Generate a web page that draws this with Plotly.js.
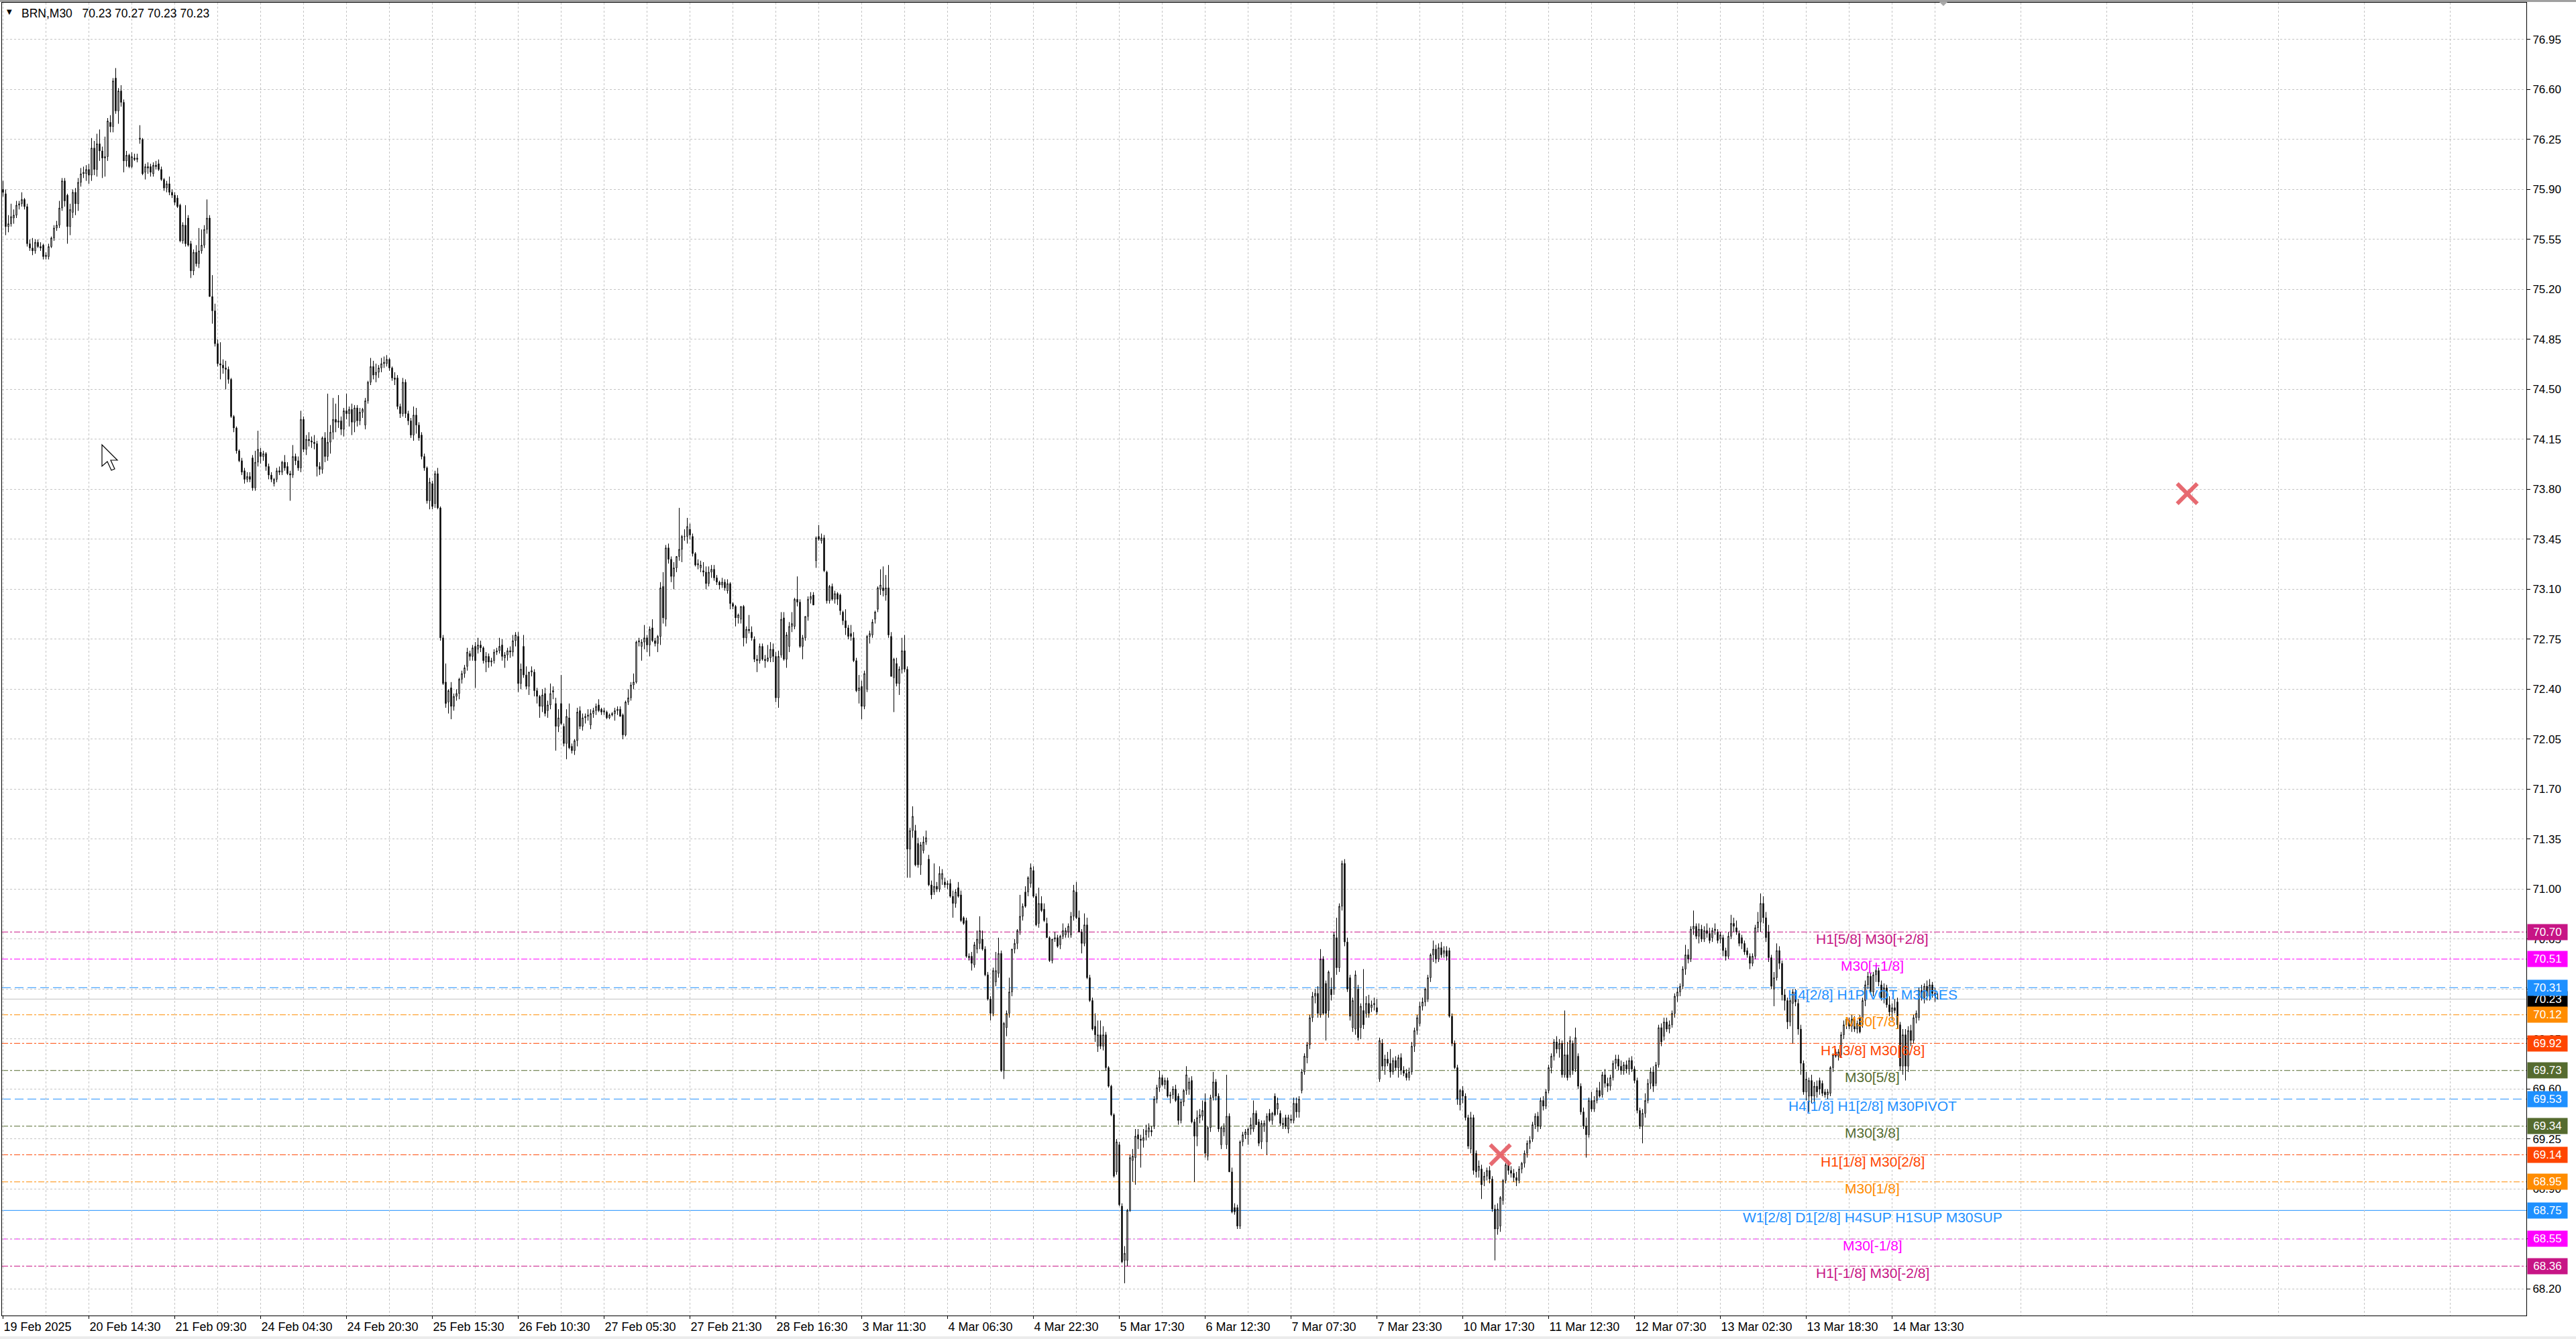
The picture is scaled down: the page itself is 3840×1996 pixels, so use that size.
<!DOCTYPE html>
<html>
<head>
<meta charset="utf-8">
<script src="https://cdn.plot.ly/plotly-3.0.1.min.js"></script>
<style>
html,body{margin:0;padding:0;background:#ffffff;}
#chart{width:3840px;height:1996px;}
</style>
</head>
<body>
<div id="chart"></div>
<script>
// ---------- DATA (BRN, M30) ----------
const openP = [
75.90,75.87,75.64,75.66,75.70,75.72,75.79,75.80,75.83,75.78,
75.52,75.49,75.47,75.53,75.50,75.51,75.43,75.43,75.50,75.56,
75.63,75.65,75.77,75.96,75.86,75.64,75.74,75.88,75.80,75.95,
76.01,76.01,76.04,76.00,76.19,76.04,76.22,76.17,76.12,76.13,
76.37,76.34,76.68,76.45,76.59,76.51,76.10,76.14,76.06,76.12,
76.11,76.25,76.25,76.02,76.06,76.06,76.01,76.07,76.08,76.04,
75.97,75.91,75.94,75.88,75.86,75.84,75.79,75.54,75.65,75.70,
75.52,75.33,75.46,75.38,75.47,75.51,75.62,75.70,75.15,75.05,
74.82,74.68,74.67,74.65,74.64,74.57,74.31,74.23,74.07,74.00,
73.93,73.87,73.89,74.02,73.81,73.99,74.06,74.03,74.05,73.96,
73.90,73.84,73.87,73.93,73.92,73.99,73.96,73.91,73.90,74.03,
74.00,73.95,74.29,74.08,74.15,74.14,74.13,74.12,73.96,73.94,
74.16,74.03,74.13,74.20,74.29,74.27,74.28,74.22,74.35,74.33,
74.36,74.27,74.37,74.28,74.34,74.25,74.42,74.55,74.66,74.60,
74.62,74.65,74.68,74.68,74.71,74.65,74.58,74.58,74.38,74.33,
74.55,74.33,74.28,74.18,74.32,74.25,74.18,74.03,73.95,73.72,
73.84,73.70,73.91,73.67,72.76,72.45,72.31,72.41,72.28,72.35,
72.37,72.47,72.51,72.56,72.65,72.63,72.70,72.68,72.71,72.69,
72.59,72.63,72.59,72.60,72.66,72.67,72.71,72.62,72.64,72.67,
72.66,72.74,72.77,72.44,72.70,72.50,72.42,72.52,72.52,72.39,
72.35,72.28,72.37,72.25,72.29,72.38,72.30,72.14,72.30,72.14,
72.02,72.20,72.00,71.97,72.04,72.25,72.14,72.20,72.21,72.15,
72.23,72.25,72.29,72.26,72.24,72.24,72.20,72.22,72.23,72.25,
72.26,72.22,72.08,72.31,72.34,72.43,72.45,72.73,72.70,72.73,
72.76,72.71,72.83,72.74,72.72,72.77,73.12,72.89,73.39,73.31,
73.19,73.25,73.33,73.38,73.47,73.47,73.52,73.47,73.35,73.27,
73.25,73.23,73.22,73.14,73.22,73.24,73.18,73.15,73.13,73.15,
73.09,73.14,73.00,72.98,72.90,72.89,72.98,72.76,72.82,72.80,
72.75,72.61,72.60,72.70,72.61,72.60,72.62,72.68,72.63,72.34,
72.64,72.90,72.61,72.70,72.84,72.84,73.03,73.01,72.70,72.76,
72.91,73.03,73.06,73.30,73.47,73.44,73.46,73.22,73.02,73.12,
73.03,73.07,73.06,72.94,72.88,72.83,72.79,72.76,72.60,72.39,
72.42,72.28,72.40,72.77,72.78,72.89,72.96,73.10,73.11,73.06,
73.11,72.77,72.48,72.58,72.44,72.54,72.67,72.54,71.28,71.41,
71.41,71.32,71.17,71.27,71.33,71.21,71.03,70.98,71.02,71.00,
71.07,71.05,71.03,71.04,70.95,70.90,71.01,70.96,70.80,70.78,
70.53,70.53,70.47,70.58,70.62,70.65,70.58,70.40,70.23,70.13,
70.35,70.41,70.55,69.73,70.03,70.13,70.28,70.58,70.62,70.71,
70.81,70.98,70.98,71.04,71.13,70.95,70.76,70.90,70.86,70.76,
70.66,70.50,70.65,70.66,70.61,70.67,70.68,70.70,70.68,70.81,
70.98,70.80,70.70,70.62,70.75,70.38,70.22,70.04,69.90,69.98,
69.90,69.98,69.75,69.62,69.42,69.02,69.21,68.78,68.40,68.40,
68.75,69.10,69.12,69.28,69.25,69.24,69.28,69.30,69.31,69.34,
69.53,69.61,69.68,69.63,69.66,69.55,69.56,69.60,69.55,69.38,
69.51,69.59,69.60,69.66,69.37,69.27,69.40,69.41,69.51,69.13,
69.33,69.54,69.65,69.55,69.21,69.30,69.21,69.41,69.02,68.77,
68.77,68.64,69.23,69.28,69.28,69.32,69.32,69.43,69.37,69.23,
69.34,69.23,69.43,69.38,69.55,69.46,69.43,69.36,69.40,69.32,
69.39,69.38,69.50,69.44,69.59,69.72,69.82,69.91,70.10,70.25,
70.27,70.12,70.51,70.34,70.15,70.30,70.30,70.66,70.45,70.88,
71.18,70.63,70.38,70.03,70.02,70.30,70.03,70.15,70.13,70.20,
70.17,70.19,70.17,69.67,69.92,69.76,69.81,69.78,69.72,69.80,
69.75,69.82,69.73,69.71,69.68,69.72,69.90,70.01,70.06,70.18,
70.21,70.23,70.38,70.54,70.58,70.51,70.59,70.55,70.57,70.57,
70.11,69.92,69.75,69.49,69.59,69.55,69.40,69.18,69.40,69.15,
69.03,69.04,68.96,68.99,69.03,68.97,68.76,68.62,68.64,68.82,
68.96,69.07,69.03,69.01,68.98,68.96,69.04,69.08,69.15,69.22,
69.25,69.35,69.41,69.34,69.52,69.48,69.59,69.75,69.83,69.93,
69.88,69.92,69.70,69.84,69.70,69.92,69.74,69.83,69.62,69.44,
69.34,69.28,69.52,69.46,69.52,69.59,69.56,69.70,69.64,69.62,
69.68,69.78,69.81,69.76,69.73,69.77,69.74,69.80,69.74,69.66,
69.45,69.34,69.43,69.52,69.64,69.72,69.64,69.77,70.03,69.97,
70.07,70.02,70.05,70.13,70.25,70.28,70.32,70.44,70.54,70.51,
70.72,70.74,70.67,70.72,70.65,70.71,70.69,70.66,70.71,70.70,
70.65,70.66,70.57,70.53,70.67,70.76,70.73,70.69,70.66,70.62,
70.57,70.53,70.48,70.53,70.73,70.77,70.90,70.80,70.70,70.52,
70.30,70.38,70.57,70.48,70.26,70.22,70.07,70.20,70.28,70.20,
70.02,69.78,69.58,69.55,69.66,69.55,69.62,69.66,69.64,69.58,
69.56,69.57,69.75,69.86,69.83,69.84,69.98,70.05,70.08,70.04,
70.09,70.02,70.10,70.05,70.22,70.33,70.39,70.28,70.40,70.43,
70.33,70.24,70.31,70.19,70.14,70.17,70.21,70.05,69.76,69.98,
69.76,70.01,69.94,70.10,70.10,70.29,70.24,70.32,70.25,70.33,
70.27,70.23];

const highP = [
75.96,75.90,75.72,75.80,75.76,75.82,75.82,75.88,75.84,75.80,
75.55,75.56,75.55,75.55,75.53,75.52,75.46,75.52,75.57,75.65,
75.68,75.82,75.98,75.98,75.87,75.80,75.90,75.91,75.98,76.05,
76.06,76.07,76.08,76.26,76.24,76.29,76.32,76.20,76.27,76.40,
76.42,76.68,76.75,76.61,76.63,76.53,76.17,76.15,76.16,76.15,
76.15,76.35,76.26,76.08,76.09,76.08,76.09,76.10,76.11,76.06,
75.98,75.96,75.99,75.90,75.88,75.86,75.80,75.67,75.79,75.72,
75.54,75.48,75.51,75.63,75.62,75.65,75.83,75.72,75.30,75.10,
74.85,74.83,74.71,74.70,74.66,74.58,74.32,74.24,74.08,74.02,
73.95,73.92,73.92,74.04,74.07,74.21,74.09,74.07,74.06,73.98,
73.92,73.88,73.95,73.96,74.00,74.04,73.99,73.93,74.11,74.05,
74.03,74.35,74.31,74.18,74.20,74.17,74.18,74.14,73.99,74.17,
74.20,74.47,74.25,74.44,74.40,74.46,74.31,74.37,74.47,74.38,
74.40,74.39,74.39,74.37,74.37,74.44,74.56,74.72,74.70,74.68,
74.67,74.72,74.73,74.74,74.72,74.66,74.62,74.60,74.40,74.58,
74.57,74.35,74.30,74.38,74.37,74.27,74.20,74.05,73.96,73.88,
73.86,73.93,73.95,73.68,72.78,72.58,72.40,72.45,72.37,72.40,
72.48,72.53,72.57,72.69,72.67,72.71,72.73,72.76,72.74,72.70,
72.66,72.65,72.62,72.68,72.69,72.76,72.75,72.66,72.69,72.70,
72.78,72.80,72.80,72.58,72.78,72.56,72.52,72.56,72.54,72.41,
72.36,72.40,72.41,72.32,72.44,72.42,72.34,72.26,72.50,72.16,
72.26,72.30,72.02,72.05,72.27,72.28,72.23,72.23,72.26,72.26,
72.27,72.30,72.33,72.27,72.27,72.25,72.23,72.24,72.27,72.28,
72.28,72.23,72.32,72.40,72.45,72.51,72.74,72.76,72.75,72.85,
72.78,72.84,72.89,72.76,72.78,73.15,73.22,73.41,73.42,73.33,
73.29,73.33,73.67,73.48,73.52,73.60,73.56,73.49,73.36,73.31,
73.30,73.29,73.26,73.26,73.27,73.27,73.20,73.16,73.18,73.17,
73.17,73.15,73.01,72.99,72.93,72.98,72.99,72.84,72.92,72.84,
72.77,72.64,72.72,72.72,72.64,72.71,72.73,72.72,72.66,72.67,
72.94,72.94,72.80,72.87,72.94,73.04,73.19,73.03,72.78,72.91,
73.05,73.08,73.08,73.47,73.55,73.49,73.48,73.23,73.13,73.14,
73.09,73.08,73.07,72.95,72.96,72.85,72.85,72.80,72.62,72.50,
72.46,72.53,72.78,72.81,72.89,72.95,73.12,73.24,73.26,73.20,
73.27,72.80,72.62,72.62,72.56,72.76,72.78,72.56,71.43,71.58,
71.45,71.36,71.33,71.37,71.41,71.24,71.06,71.18,71.05,71.16,
71.14,71.08,71.06,71.07,70.99,71.00,71.05,70.99,70.81,70.80,
70.55,70.56,70.63,70.71,70.81,70.71,70.60,70.42,70.25,70.45,
70.56,70.66,70.57,70.07,70.15,70.38,70.58,70.65,70.72,70.96,
70.90,71.02,71.09,71.18,71.16,70.97,71.01,70.95,70.90,70.80,
70.67,70.65,70.70,70.68,70.68,70.76,70.73,70.76,70.84,71.03,
71.05,70.85,70.72,70.83,70.80,70.40,70.24,70.13,70.08,70.08,
70.04,70.00,69.76,69.63,69.43,69.25,69.23,68.80,68.50,68.76,
69.14,69.18,69.32,69.32,69.28,69.32,69.35,69.36,69.34,69.55,
69.63,69.73,69.70,69.68,69.68,69.58,69.62,69.63,69.57,69.53,
69.60,69.76,69.68,69.69,69.39,69.45,69.46,69.52,69.57,69.34,
69.56,69.72,69.67,69.57,69.34,69.36,69.70,69.43,69.05,68.80,
68.79,69.24,69.30,69.32,69.33,69.40,69.52,69.45,69.39,69.38,
69.38,69.43,69.46,69.44,69.57,69.54,69.45,69.40,69.42,69.42,
69.42,69.54,69.54,69.55,69.74,69.85,69.93,70.12,70.28,70.30,
70.32,70.58,70.53,70.36,70.43,70.38,70.70,70.80,70.90,71.20,
71.21,70.66,70.40,70.24,70.43,70.33,70.20,70.44,70.25,70.26,
70.22,70.24,70.23,69.96,69.95,69.84,69.86,69.88,69.82,69.83,
69.84,69.85,69.76,69.74,69.75,69.93,70.03,70.12,70.21,70.24,
70.31,70.40,70.55,70.64,70.61,70.62,70.63,70.60,70.60,70.59,
70.13,69.94,69.77,69.60,69.62,69.57,69.42,69.44,69.42,69.17,
69.10,69.07,69.02,69.05,69.06,68.99,68.79,68.80,68.85,68.97,
69.08,69.10,69.06,69.04,69.02,69.06,69.09,69.17,69.24,69.27,
69.37,69.43,69.44,69.54,69.55,69.60,69.77,69.85,69.95,69.97,
69.95,69.94,70.15,69.93,69.97,69.94,70.03,69.85,69.64,69.47,
69.40,69.54,69.58,69.55,69.61,69.65,69.72,69.74,69.68,69.70,
69.80,69.84,69.84,69.80,69.79,69.80,69.82,69.83,69.76,69.68,
69.47,69.46,69.57,69.67,69.75,69.76,69.79,70.05,70.06,70.10,
70.10,70.08,70.15,70.27,70.31,70.34,70.46,70.61,70.58,70.74,
70.85,70.76,70.76,70.75,70.74,70.76,70.73,70.73,70.76,70.72,
70.70,70.68,70.59,70.70,70.82,70.80,70.78,70.71,70.68,70.64,
70.59,70.55,70.55,70.75,70.84,70.97,70.95,70.84,70.75,70.54,
70.42,70.62,70.60,70.50,70.30,70.24,70.24,70.30,70.30,70.23,
70.05,69.80,69.72,69.68,69.70,69.65,69.66,69.68,69.66,69.60,
69.60,69.76,69.85,69.88,69.88,70.00,70.08,70.10,70.10,70.12,
70.11,70.08,70.12,70.24,70.36,70.42,70.41,70.42,70.47,70.45,
70.36,70.34,70.33,70.25,70.20,70.23,70.24,70.07,70.02,70.02,
70.04,70.05,70.12,70.15,70.31,70.33,70.34,70.36,70.37,70.35,
70.31,70.27];

const lowP = [
75.85,75.58,75.60,75.64,75.66,75.70,75.76,75.78,75.76,75.50,
75.47,75.44,75.45,75.49,75.47,75.41,75.41,75.41,75.49,75.54,
75.61,75.63,75.75,75.78,75.52,75.58,75.70,75.72,75.75,75.92,
75.98,75.96,75.94,75.96,76.00,75.99,76.10,75.98,75.99,76.10,
76.30,76.30,76.43,76.36,76.48,76.02,76.06,76.05,76.05,76.10,
76.09,76.22,76.00,75.97,76.01,75.99,75.99,76.04,76.03,75.96,
75.89,75.88,75.86,75.84,75.79,75.77,75.53,75.52,75.50,75.50,
75.28,75.30,75.36,75.35,75.45,75.49,75.59,75.15,74.96,74.80,
74.66,74.57,74.61,74.50,74.54,74.30,74.20,74.05,73.99,73.90,
73.84,73.85,73.85,73.79,73.79,73.96,73.98,74.00,73.93,73.87,
73.85,73.82,73.85,73.90,73.90,73.93,73.90,73.72,73.88,73.97,
73.93,73.92,74.06,74.04,74.10,74.09,74.08,73.89,73.90,73.91,
73.99,74.00,74.05,74.15,74.20,74.23,74.18,74.17,74.29,74.24,
74.18,74.20,74.24,74.25,74.30,74.22,74.40,74.53,74.57,74.55,
74.58,74.62,74.65,74.66,74.63,74.56,74.53,74.36,74.30,74.31,
74.30,74.25,74.16,74.14,74.19,74.14,74.01,73.93,73.70,73.66,
73.66,73.67,73.66,72.74,72.43,72.27,72.23,72.19,72.25,72.32,
72.33,72.44,72.48,72.53,72.60,72.60,72.41,72.65,72.66,72.58,
72.52,72.55,72.56,72.58,72.64,72.65,72.60,72.55,72.60,72.62,
72.63,72.70,72.38,72.40,72.48,72.40,72.36,72.49,72.35,72.30,
72.20,72.24,72.21,72.20,72.26,72.33,71.97,72.10,72.15,72.00,
71.91,71.98,71.95,71.94,72.00,72.12,72.11,72.16,72.18,72.12,
72.20,72.22,72.24,72.22,72.22,72.19,72.19,72.21,72.18,72.22,
72.21,72.05,72.07,72.29,72.32,72.40,72.44,72.70,72.60,72.68,
72.66,72.63,72.73,72.70,72.66,72.71,72.86,72.84,73.28,73.15,
73.10,73.22,73.30,73.29,73.44,73.42,73.45,73.33,73.26,73.24,
73.22,73.19,73.10,73.12,73.18,73.16,73.13,73.10,73.11,73.09,
73.07,72.96,72.96,72.84,72.86,72.86,72.70,72.72,72.79,72.74,
72.59,72.52,72.58,72.60,72.55,72.59,72.59,72.59,72.31,72.27,
72.62,72.60,72.55,72.66,72.80,72.82,72.98,72.69,72.61,72.74,
72.88,73.00,72.99,73.25,73.44,73.42,73.22,73.00,73.00,73.02,
73.00,72.99,72.92,72.85,72.78,72.75,72.74,72.59,72.38,72.30,
72.19,72.26,72.38,72.72,72.76,72.86,72.94,73.06,73.05,73.02,
72.76,72.49,72.24,72.42,72.36,72.51,72.52,71.08,71.08,71.36,
71.16,71.15,71.10,71.25,71.31,71.02,70.93,70.96,70.98,70.98,
71.03,71.01,71.00,70.94,70.80,70.87,70.94,70.77,70.75,70.52,
70.50,70.43,70.45,70.55,70.58,70.57,70.39,70.22,70.08,70.11,
70.32,70.38,69.72,69.67,69.97,70.10,70.25,70.55,70.58,70.68,
70.78,70.87,70.95,71.01,70.94,70.74,70.73,70.84,70.77,70.66,
70.49,70.48,70.63,70.59,70.58,70.65,70.66,70.66,70.66,70.78,
70.79,70.70,70.55,70.60,70.37,70.21,70.01,69.93,69.86,69.88,
69.87,69.73,69.61,69.41,68.98,69.00,68.78,68.38,68.24,68.36,
68.74,68.95,68.93,69.18,69.05,69.19,69.24,69.26,69.27,69.32,
69.50,69.58,69.62,69.60,69.54,69.50,69.53,69.51,69.35,69.36,
69.48,69.56,69.56,69.36,68.95,69.20,69.36,69.38,69.12,69.10,
69.30,69.52,69.52,69.30,69.18,69.27,69.18,69.02,68.73,68.72,
68.62,68.62,69.20,69.25,69.21,69.28,69.30,69.35,69.20,69.18,
69.30,69.14,69.37,69.35,69.41,69.42,69.34,69.32,69.32,69.29,
69.36,69.36,69.40,69.40,69.57,69.70,69.78,69.88,70.07,70.20,
70.10,70.10,70.12,69.94,70.10,70.22,70.26,70.40,70.42,70.85,
70.60,70.28,70.08,70.00,69.98,69.94,69.95,70.02,70.10,70.10,
70.14,70.15,70.12,69.65,69.73,69.70,69.76,69.68,69.70,69.73,
69.68,69.70,69.69,69.66,69.66,69.70,69.86,69.98,70.04,70.15,
70.18,70.21,70.35,70.49,70.48,70.49,70.52,70.52,70.50,70.10,
69.90,69.74,69.49,69.45,69.50,69.38,69.18,69.15,69.00,68.98,
68.98,68.83,68.92,68.96,68.94,68.74,68.40,68.58,68.60,68.79,
68.94,69.00,68.98,68.95,68.92,68.94,69.01,69.05,69.12,69.18,
69.23,69.32,69.30,69.32,69.45,69.46,69.57,69.71,69.80,69.85,
69.82,69.68,69.68,69.66,69.68,69.70,69.72,69.60,69.42,69.32,
69.12,69.26,69.44,69.44,69.50,69.54,69.54,69.61,69.58,69.59,
69.66,69.74,69.73,69.70,69.70,69.71,69.70,69.72,69.64,69.43,
69.32,69.22,69.40,69.50,69.60,69.58,69.62,69.75,69.90,69.94,
70.00,69.99,70.03,70.10,70.21,70.25,70.30,70.40,70.48,70.49,
70.68,70.65,70.62,70.63,70.63,70.66,70.62,70.63,70.68,70.62,
70.62,70.53,70.50,70.51,70.65,70.70,70.68,70.60,70.58,70.54,
70.52,70.44,70.46,70.51,70.70,70.70,70.76,70.63,70.49,70.30,
70.18,70.36,70.44,70.22,70.15,70.02,70.04,69.92,70.18,69.98,
69.70,69.56,69.52,69.44,69.50,69.50,69.54,69.56,69.55,69.54,
69.53,69.55,69.72,69.82,69.80,69.82,69.95,70.02,70.02,70.00,
70.00,69.99,69.99,70.03,70.18,70.30,70.26,70.25,70.35,70.32,
70.22,70.20,70.17,70.11,70.08,70.13,70.02,69.73,69.70,69.66,
69.72,69.90,69.92,70.06,70.08,70.22,70.20,70.22,70.22,70.24,
70.21,70.23];

const closeP = [
75.88,75.64,75.66,75.71,75.72,75.79,75.80,75.83,75.78,75.52,
75.49,75.47,75.53,75.50,75.49,75.43,75.44,75.50,75.56,75.63,
75.65,75.77,75.96,75.82,75.64,75.76,75.88,75.80,75.95,76.01,
76.02,76.04,76.00,76.19,76.04,76.22,76.17,76.12,76.13,76.38,
76.34,76.66,76.45,76.59,76.51,76.10,76.14,76.06,76.13,76.11,
76.12,76.26,76.01,76.06,76.05,76.02,76.07,76.06,76.04,75.97,
75.91,75.94,75.88,75.86,75.81,75.78,75.54,75.65,75.52,75.51,
75.33,75.46,75.38,75.47,75.51,75.62,75.70,75.15,75.05,74.82,
74.68,74.67,74.65,74.64,74.57,74.31,74.23,74.07,74.00,73.92,
73.87,73.89,73.87,73.81,73.99,74.08,74.03,74.05,73.96,73.90,
73.87,73.87,73.93,73.92,73.99,73.95,73.91,73.90,74.03,74.00,
73.95,74.29,74.08,74.15,74.14,74.13,74.12,73.96,73.94,74.16,
74.03,74.13,74.20,74.29,74.27,74.28,74.22,74.35,74.33,74.36,
74.27,74.37,74.28,74.34,74.36,74.42,74.55,74.66,74.60,74.62,
74.65,74.68,74.69,74.71,74.65,74.58,74.57,74.38,74.33,74.55,
74.33,74.28,74.18,74.32,74.25,74.16,74.03,73.95,73.72,73.85,
73.68,73.91,73.67,72.76,72.44,72.30,72.39,72.28,72.35,72.37,
72.47,72.51,72.55,72.66,72.63,72.69,72.60,72.71,72.69,72.60,
72.63,72.59,72.60,72.66,72.67,72.70,72.63,72.64,72.67,72.66,
72.74,72.78,72.44,72.54,72.50,72.42,72.52,72.53,72.39,72.35,
72.28,72.36,72.23,72.29,72.37,72.39,72.14,72.20,72.16,72.02,
72.21,71.99,71.97,72.04,72.24,72.14,72.20,72.21,72.22,72.23,
72.25,72.28,72.25,72.24,72.25,72.20,72.22,72.23,72.25,72.26,
72.21,72.08,72.31,72.34,72.43,72.45,72.73,72.74,72.73,72.76,
72.71,72.82,72.74,72.72,72.77,73.11,72.90,73.39,73.31,73.19,
73.25,73.33,73.38,73.47,73.47,73.54,73.48,73.35,73.27,73.28,
73.27,73.22,73.14,73.22,73.24,73.18,73.15,73.13,73.15,73.11,
73.14,73.00,72.98,72.90,72.92,72.98,72.76,72.82,72.81,72.76,
72.61,72.60,72.70,72.61,72.60,72.62,72.68,72.63,72.34,72.63,
72.89,72.61,72.78,72.84,72.86,73.03,73.01,72.70,72.76,72.91,
73.03,73.05,72.99,73.46,73.45,73.46,73.23,73.02,73.12,73.03,
73.07,73.03,72.95,72.88,72.83,72.77,72.77,72.60,72.39,72.41,
72.28,72.51,72.77,72.79,72.87,72.94,73.11,73.13,73.09,73.11,
72.78,72.49,72.61,72.44,72.54,72.67,72.54,71.28,71.41,71.51,
71.17,71.17,71.31,71.33,71.36,71.03,70.96,71.02,71.00,71.11,
71.11,71.03,71.04,70.95,70.90,70.98,70.95,70.78,70.76,70.53,
70.52,70.48,70.61,70.65,70.71,70.58,70.40,70.23,70.13,70.43,
70.43,70.55,69.73,70.06,70.13,70.28,70.58,70.62,70.71,70.81,
70.88,70.88,71.08,71.15,70.95,70.75,70.90,70.85,70.78,70.66,
70.50,70.65,70.66,70.60,70.67,70.71,70.71,70.74,70.81,70.99,
70.80,70.70,70.62,70.75,70.38,70.22,70.02,69.98,69.98,69.90,
69.98,69.75,69.62,69.42,68.99,69.23,68.79,68.39,68.45,68.75,
69.12,69.13,69.27,69.25,69.24,69.26,69.31,69.33,69.30,69.53,
69.61,69.68,69.63,69.66,69.55,69.56,69.60,69.52,69.38,69.51,
69.59,69.70,69.65,69.37,69.27,69.40,69.42,69.45,69.15,69.33,
69.54,69.65,69.55,69.32,69.33,69.33,69.41,69.02,68.74,68.74,
68.64,69.23,69.28,69.30,69.32,69.35,69.43,69.35,69.22,69.36,
69.36,69.41,69.38,69.43,69.42,69.50,69.36,69.35,69.34,69.40,
69.38,69.50,69.44,69.53,69.72,69.83,69.91,70.10,70.25,70.27,
70.13,70.51,70.13,70.13,70.42,70.26,70.68,70.45,70.88,71.18,
70.63,70.30,70.11,70.22,70.40,69.96,70.18,70.05,70.20,70.13,
70.19,70.20,70.14,69.94,69.76,69.81,69.78,69.72,69.80,69.75,
69.82,69.73,69.71,69.68,69.72,69.90,70.01,70.10,70.18,70.21,
70.30,70.38,70.54,70.58,70.51,70.59,70.54,70.57,70.53,70.11,
69.92,69.75,69.53,69.59,69.55,69.40,69.20,69.40,69.03,69.02,
69.06,68.93,68.99,69.03,68.97,68.76,68.62,68.76,68.84,68.96,
69.07,69.03,69.01,68.98,68.96,69.04,69.08,69.15,69.22,69.24,
69.35,69.41,69.34,69.52,69.48,69.58,69.75,69.83,69.93,69.88,
69.92,69.70,69.84,69.68,69.94,69.73,69.96,69.62,69.44,69.34,
69.28,69.52,69.46,69.52,69.59,69.55,69.70,69.64,69.62,69.68,
69.78,69.81,69.76,69.73,69.77,69.74,69.80,69.74,69.66,69.45,
69.34,69.43,69.52,69.64,69.72,69.62,69.77,70.03,69.93,70.07,
70.02,70.05,70.13,70.25,70.28,70.32,70.44,70.54,70.51,70.72,
70.74,70.67,70.72,70.65,70.71,70.69,70.64,70.71,70.72,70.64,
70.68,70.57,70.53,70.67,70.76,70.74,70.70,70.62,70.62,70.56,
70.54,70.48,70.53,70.73,70.77,70.90,70.80,70.66,70.52,70.32,
70.38,70.57,70.48,70.26,70.22,70.07,70.22,70.28,70.21,70.02,
69.78,69.58,69.67,69.66,69.55,69.62,69.58,69.60,69.57,69.56,
69.58,69.75,69.84,69.83,69.86,69.98,70.05,70.09,70.04,70.09,
70.02,70.06,70.00,70.22,70.33,70.39,70.28,70.40,70.43,70.35,
70.24,70.31,70.19,70.14,70.17,70.15,70.05,69.76,69.98,69.76,
70.01,69.94,70.10,70.13,70.29,70.24,70.32,70.25,70.33,70.27,
70.25,70.23];

// time axis labels (one every 32 bars)
const timeTickIndex = [0,32,64,96,128,160,192,224,256,288,320,352,384,416,448,480,512,544,576,608,640,672,704];
const timeTickLabels = ["19 Feb 2025","20 Feb 14:30","21 Feb 09:30","24 Feb 04:30","24 Feb 20:30","25 Feb 15:30",
  "26 Feb 10:30","27 Feb 05:30","27 Feb 21:30","28 Feb 16:30","3 Mar 11:30","4 Mar 06:30","4 Mar 22:30",
  "5 Mar 17:30","6 Mar 12:30","7 Mar 07:30","7 Mar 23:30","10 Mar 17:30","11 Mar 12:30","12 Mar 07:30",
  "13 Mar 02:30","13 Mar 18:30","14 Mar 13:30"];

// price axis ticks
const priceTicks = [68.20,68.55,68.90,69.25,69.60,69.95,70.30,70.65,71.00,71.35,71.70,72.05,72.40,72.75,
  73.10,73.45,73.80,74.15,74.50,74.85,75.20,75.55,75.90,76.25,76.60,76.95];

// Murrey levels
const levelValues = [70.70,70.51,70.31,70.12,69.92,69.73,69.53,69.34,69.14,68.95,68.75,68.55,68.36];
const levelNames = ["H1[5/8] M30[+2/8]","M30[+1/8]","H4[2/8] H1PIVOT M30RES","M30[7/8]","H1[3/8] M30[6/8]",
  "M30[5/8]","H4[1/8] H1[2/8] M30PIVOT","M30[3/8]","H1[1/8] M30[2/8]","M30[1/8]",
  "W1[2/8] D1[2/8] H4SUP H1SUP M30SUP","M30[-1/8]","H1[-1/8] M30[-2/8]"];

const lastPrice = 70.23;
const headerSymbol = "BRN,M30";
const headerOHLC = ["70.23","70.27","70.23","70.23"];

// red cross objects on the chart
const crossBar = [558, 814];
const crossPrice = [69.14, 73.77];

// ---------- STYLES ----------
const levelColors = ["#C71585","#FF00FF","#1E90FF","#FF8C00","#FF4500","#556B2F","#1E90FF","#556B2F","#FF4500","#FF8C00","#1E90FF","#FF00FF","#C71585"];
const DASHDOT = "9px,3px,3px,3px";
const DASH = "13px,6px";
const levelDash = [DASHDOT,DASHDOT,DASH,DASHDOT,DASHDOT,DASHDOT,DASH,DASHDOT,DASHDOT,DASHDOT,"solid",DASHDOT,DASHDOT];

const FONT = "Liberation Sans, Arial, sans-serif";
const GRID = "#c4c4c4";
const GRIDDASH = "3px,3px";

// plot area in page pixels (for decorations outside the data)
const PLOT_L = 3, PLOT_T = 4, PLOT_W = 3763, PLOT_H = 1957;
const px2paperX = px => (px - PLOT_L) / PLOT_W;
const px2paperY = py => (PLOT_T + PLOT_H - py) / PLOT_H;

const barIndex = openP.map((_, i) => i);

const candles = {
  type: "candlestick",
  x: barIndex, open: openP, high: highP, low: lowP, close: closeP,
  increasing: {line: {color: "#000000", width: 1}, fillcolor: "#ffffff"},
  decreasing: {line: {color: "#000000", width: 1}, fillcolor: "#000000"},
  whiskerwidth: 0,
  hoverinfo: "skip",
  showlegend: false
};

const crosses = {
  type: "scatter", mode: "markers",
  x: crossBar, y: crossPrice,
  marker: {symbol: "x-thin", size: 30, line: {width: 6, color: "rgba(228,90,98,0.9)"}},
  hoverinfo: "skip", showlegend: false
};

const shapes = [];
const annotations = [];

// current price line
shapes.push({type: "line", xref: "paper", x0: 0, x1: 1, yref: "y", y0: lastPrice, y1: lastPrice,
  line: {color: "#c0c0c0", width: 1}, layer: "between"});

levelValues.forEach((v, k) => {
  shapes.push({type: "line", xref: "paper", x0: 0, x1: 1, yref: "y", y0: v, y1: v,
    line: {color: levelColors[k], width: 1, dash: levelDash[k]}, layer: "between"});
  annotations.push({xref: "paper", x: 0.7409, xanchor: "center", yref: "y", y: v, yanchor: "middle",
    yshift: -10, text: levelNames[k], showarrow: false,
    font: {family: FONT, size: 21, color: levelColors[k]}});
});

// price boxes on the right scale
annotations.push({xref: "paper", x: 1, xanchor: "left", xshift: 1, yref: "y", y: lastPrice, yanchor: "middle",
  text: lastPrice.toFixed(2), showarrow: false, bgcolor: "#000000", width: 59, height: 23, borderpad: 0,
  font: {family: FONT, size: 17, color: "#ffffff"}});
levelValues.forEach((v, k) => {
  annotations.push({xref: "paper", x: 1, xanchor: "left", xshift: 1, yref: "y", y: v, yanchor: "middle",
    text: v.toFixed(2), showarrow: false, bgcolor: levelColors[k], width: 59, height: 23, borderpad: 0,
    font: {family: FONT, size: 17, color: "#ffffff"}});
});

// header
annotations.push({xref: "paper", x: 0, xanchor: "left", xshift: 5, yref: "paper", y: 1, yanchor: "top", yshift: -6,
  text: "\u25BC", showarrow: false, font: {family: "DejaVu Sans", size: 10, color: "#000000"}});
annotations.push({xref: "paper", x: 0, xanchor: "left", xshift: 27, yref: "paper", y: 1, yanchor: "top", yshift: -4,
  text: headerSymbol + "\u00a0\u00a0\u00a0" + headerOHLC.join("\u00a0"), showarrow: false,
  font: {family: FONT, size: 17.5, color: "#000000"}});

// window frame strips
shapes.push({type: "rect", xref: "paper", yref: "paper", x0: -0.01, x1: 1.03, y0: -0.0158, y1: -0.02,
  fillcolor: "#ececec", line: {width: 0}, layer: "above"});
shapes.push({type: "rect", xref: "paper", yref: "paper", x0: -0.01, x1: 1.03, y0: 1.0005, y1: 1.003,
  fillcolor: "#a0a0a0", line: {width: 0}, layer: "above"});

// chart-shift marker at the top border
const shiftPts = [[2891, 3], [2903, 3], [2897, 9]];
shapes.push({type: "path", xref: "paper", yref: "paper",
  path: "M" + shiftPts.map(p => px2paperX(p[0]) + "," + px2paperY(p[1])).join(" L") + " Z",
  fillcolor: "#a8a8a8", line: {width: 0}, layer: "above"});

// mouse pointer left on the chart
const cursorTip = [152, 663];
const cursorOutline = [[0,0],[0,32],[8,25],[14,38],[19,36],[13,23],[23,23]];
shapes.push({type: "path", xref: "paper", yref: "paper",
  path: "M" + cursorOutline.map(p => px2paperX(cursorTip[0] + p[0]) + "," + px2paperY(cursorTip[1] + p[1])).join(" L") + " Z",
  fillcolor: "#ffffff", line: {color: "#000000", width: 1.2}, layer: "above"});

const layout = {
  width: 3840, height: 1996,
  margin: {l: PLOT_L, r: 3840 - PLOT_L - PLOT_W, t: PLOT_T, b: 1996 - PLOT_T - PLOT_H, pad: 0},
  paper_bgcolor: "#ffffff", plot_bgcolor: "#ffffff",
  showlegend: false, hovermode: false, dragmode: false,
  boxgap: 0.5,
  font: {family: FONT, size: 17, color: "#000000"},
  xaxis: {
    type: "linear", range: [-0.375, 940.375], fixedrange: true,
    rangeslider: {visible: false},
    tickmode: "array", tickvals: timeTickIndex, ticktext: timeTickLabels,
    ticks: "outside", ticklen: 4, tickcolor: "#000000", tickwidth: 1,
    ticklabelposition: "outside right",
    tickfont: {family: FONT, size: 18, color: "#000000"},
    showgrid: true, gridcolor: GRID, gridwidth: 1, griddash: GRIDDASH,
    minor: {tickmode: "linear", tick0: 16, dtick: 32, showgrid: true, gridcolor: GRID, gridwidth: 1, griddash: GRIDDASH, ticks: ""},
    showline: true, linecolor: "#000000", linewidth: 1, mirror: true,
    zeroline: false
  },
  yaxis: {
    side: "right", range: [68.014, 77.208], fixedrange: true,
    tickmode: "array", tickvals: priceTicks, ticktext: priceTicks.map(v => v.toFixed(2)),
    ticks: "outside", ticklen: 5, tickcolor: "#000000", tickwidth: 1,
    ticklabelstandoff: 0,
    tickfont: {family: FONT, size: 17, color: "#000000"},
    showgrid: true, gridcolor: GRID, gridwidth: 1, griddash: GRIDDASH,
    showline: true, linecolor: "#000000", linewidth: 1, mirror: true,
    zeroline: false
  },
  shapes: shapes,
  annotations: annotations
};

Plotly.newPlot("chart", [candles, crosses], layout, {staticPlot: true, displayModeBar: false});
</script>
</body>
</html>
